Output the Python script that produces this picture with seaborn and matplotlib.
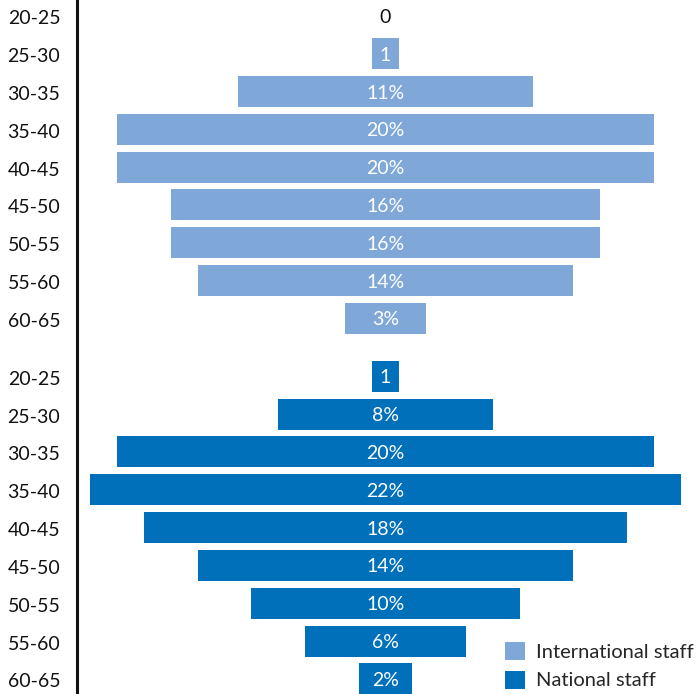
import matplotlib
matplotlib.use("Agg")
import matplotlib.pyplot as plt
import seaborn as sns
import pandas as pd
from matplotlib.patches import Patch

age_groups = ["20-25", "25-30", "30-35", "35-40", "40-45", "45-50", "50-55", "55-60", "60-65"]
international = [0, 1, 11, 20, 20, 16, 16, 14, 3]
national = [1, 8, 20, 22, 18, 14, 10, 6, 2]
intl_labels = ["0", "1", "11%", "20%", "20%", "16%", "16%", "14%", "3%"]
natl_labels = ["1", "8%", "20%", "22%", "18%", "14%", "10%", "6%", "2%"]
series = ["International staff", "National staff"]
colors = {"International staff": "#7FA8D9", "National staff": "#0070BA"}

sns.set_theme(style="white")
plt.rcParams["font.family"] = ["Lato", "DejaVu Sans"]

gap = 9.53
rows = []
for i, (a, v, l) in enumerate(zip(age_groups, international, intl_labels)):
    rows.append(dict(age=a, value=v, label=l, series=series[0], pos=i))
for i, (a, v, l) in enumerate(zip(age_groups, national, natl_labels)):
    rows.append(dict(age=a, value=v, label=l, series=series[1], pos=gap + i))
df = pd.DataFrame(rows)

fig = plt.figure(figsize=(6.99, 6.94), dpi=100)
ax = fig.add_axes([77 / 699, 0, 1 - 77 / 699, 1])

for s, sub in df.groupby("series"):
    ax.barh(sub["pos"], sub["value"], left=-sub["value"] / 2, height=0.82,
            color=colors[s], linewidth=0)
    for _, r in sub.iterrows():
        ax.text(0, r["pos"] + 0.04, r["label"], ha="center", va="center",
                fontsize=14, color="white" if r["value"] > 0 else "#111111")

ax.set_xlim(-11.49, 11.68)
ax.set_ylim(gap + 8 + 0.40, -0.42)
ax.set_yticks(df["pos"] + 0.04)
ax.set_yticklabels(df["age"], fontsize=14, color="#111111")
ax.tick_params(axis="y", length=0, pad=12)
ax.set_xticks([])
for side in ["top", "right", "bottom"]:
    ax.spines[side].set_visible(False)
ax.spines["left"].set_color("#111111")
ax.spines["left"].set_linewidth(2.2)

handles = [Patch(facecolor=colors[s], edgecolor="none", label=s) for s in series]
ax.legend(handles=handles, loc="lower right", bbox_to_anchor=(1.008, -0.008),
          frameon=False, fontsize=14.5, handlelength=1.0, handleheight=1.0,
          handletextpad=0.55, labelspacing=0.5, borderpad=0)

fig.savefig("out.png", dpi=100)
